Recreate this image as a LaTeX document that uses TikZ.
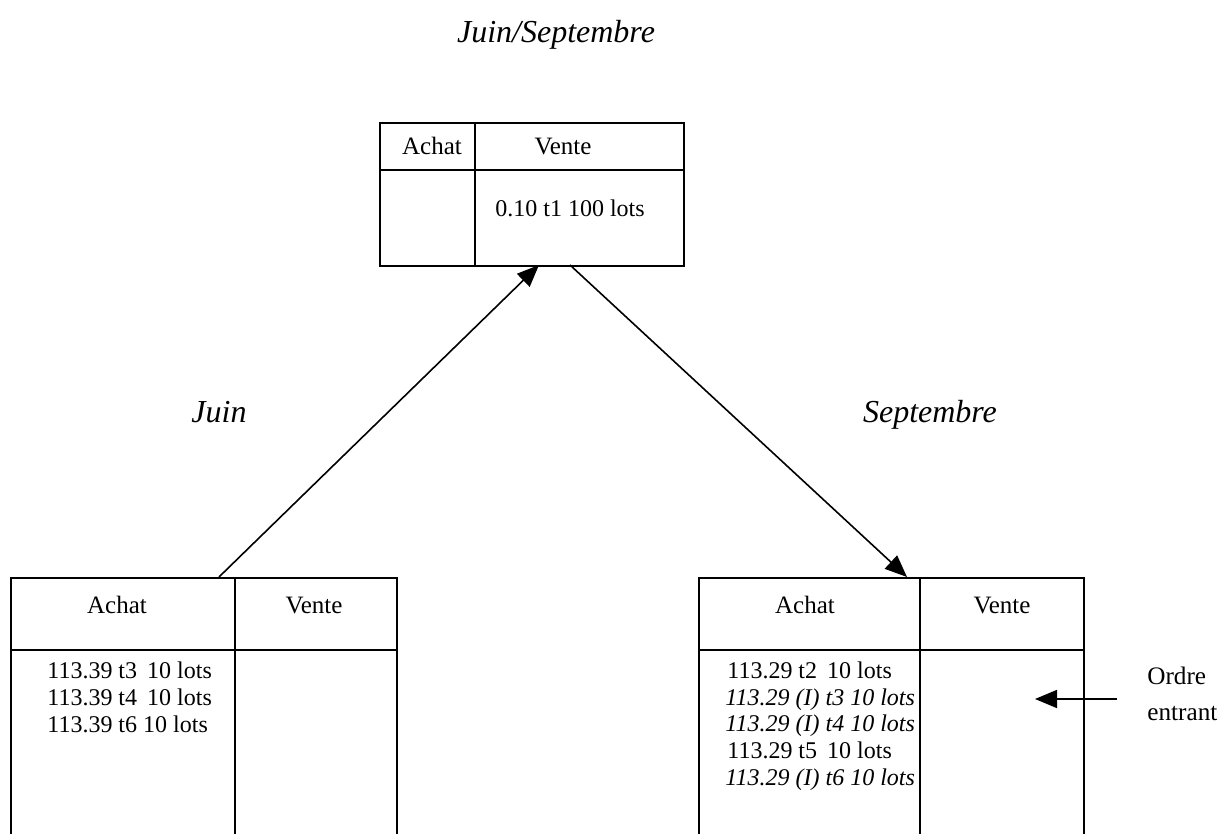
\documentclass[tikz,border=0pt]{standalone}
\usepackage{fontspec}
\setmainfont{Liberation Serif}
\usetikzlibrary{arrows.meta}
\begin{document}
\begin{tikzpicture}[x=0.5pt,y=-0.5pt,
  boxline/.style={line width=0.8pt},
  bookbox/.style={draw, line width=0.8pt, inner sep=0, anchor=north west},
  txt/.style={font=\fontsize{12}{13.4}\selectfont, inner sep=0, anchor=base},
  hdr/.style={font=\fontsize{12.5}{14}\selectfont, inner sep=0, anchor=base},
  lbl/.style={font=\fontsize{16}{18}\selectfont\itshape, inner sep=0, anchor=base},
  side/.style={font=\fontsize{12.6}{14}\selectfont, inner sep=0, anchor=base west},
  arr/.style={line width=0.8pt, -{Triangle[length=11pt,width=9pt]}}]
\useasboundingbox (0,0) rectangle (1228,834);
\clip (0,0) rectangle (1228,834);

% top book
\node[bookbox, minimum width=152pt, minimum height=71.5pt] (top) at (379,122) {};
\draw[boxline] (475,122) -- (475,265);
\draw[boxline] (379,170) -- (683,170);
\node[hdr] (tA) at (432,155) {Achat};
\node[hdr] (tV) at (563,155) {Vente};
\node[txt] (tO) at (570,217) {0.10 t1 100 lots};

% bottom left book
\node[bookbox, minimum width=193pt, minimum height=170pt] (lb) at (10,577) {};
\draw[boxline] (235,577) -- (235,900);
\draw[boxline] (10,650) -- (396,650);
\node[hdr] (lA) at (117,613) {Achat};
\node[hdr] (lV) at (314,613) {Vente};
\node[txt, anchor=base west] (l1) at (47,678) {113.39 t3 \,10 lots};
\node[txt, anchor=base west] (l2) at (47,705) {113.39 t4 \,10 lots};
\node[txt, anchor=base west] (l3) at (47,732) {113.39 t6 10 lots};

% bottom right book
\node[bookbox, minimum width=192.5pt, minimum height=170pt] (rb) at (698,577) {};
\draw[boxline] (920,577) -- (920,900);
\draw[boxline] (698,650) -- (1083,650);
\node[hdr] (rA) at (805,613) {Achat};
\node[hdr] (rV) at (1002,613) {Vente};
\node[txt, anchor=base west] (r1) at (727,678) {113.29 t2 \,10 lots};
\node[txt, anchor=base west] (r2) at (725,705) {\itshape 113.29 (I) t3 10 lots};
\node[txt, anchor=base west] (r3) at (725,731) {\itshape 113.29 (I) t4 10 lots};
\node[txt, anchor=base west] (r4) at (727,758) {113.29 t5 \,10 lots};
\node[txt, anchor=base west] (r5) at (725,785) {\itshape 113.29 (I) t6 10 lots};

% labels
\node[lbl] (lJS) at (556,43) {Juin/Septembre};
\node[lbl] (lJ) at (219,423) {Juin};
\node[lbl] (lS) at (930,423) {Septembre};

% incoming order
\node[side] (o1) at (1147,684) {Ordre};
\node[side] (o2) at (1147,720) {entrant};
\coordinate (oin) at (1117,699);
\coordinate (otip) at (1035,699);
\draw[arr] (oin) -- (otip);

% connectors
\coordinate (la) at (219,577);
\coordinate (lt) at (539,265);
\coordinate (rs) at (570,265);
\coordinate (re) at (907,577);
\draw[arr] (la) -- (lt);
\draw[arr] (rs) -- (re);
\end{tikzpicture}
\end{document}
